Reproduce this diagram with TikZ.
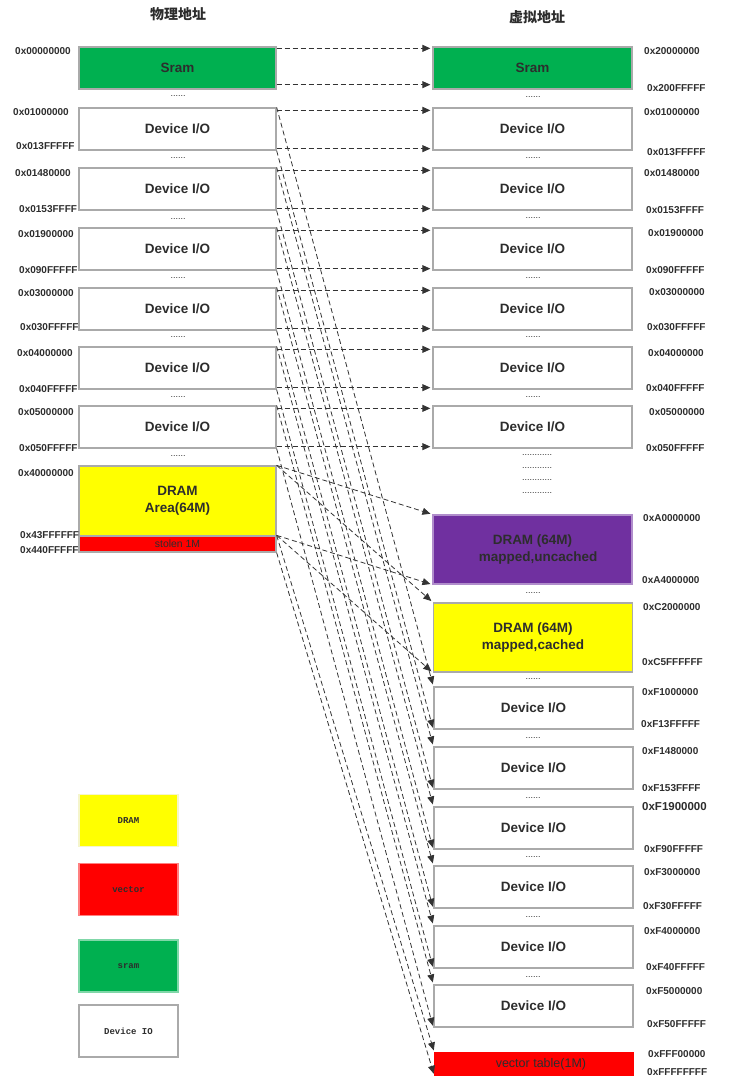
\documentclass[tikz,border=0pt]{standalone}
\usepackage{fontspec}
\setmainfont{Liberation Sans}
\newfontfamily\cjkfont{Noto Sans CJK SC}
\newfontfamily\legendfont{Liberation Mono}
\usetikzlibrary{arrows.meta,positioning}
\definecolor{sramgreen}{RGB}{0,176,80}
\definecolor{dramyellow}{RGB}{255,255,0}
\definecolor{vecred}{RGB}{255,0,0}
\definecolor{mappurple}{RGB}{112,48,160}
\definecolor{boxline}{RGB}{170,170,170}
\definecolor{txt}{RGB}{45,45,45}

\begin{document}
\begin{tikzpicture}[x=1pt, y=-1pt, >={Triangle[length=8pt,width=7pt]},
 blk/.style={draw=boxline, line width=1.3pt, minimum width=197pt, minimum height=42pt, inner sep=0pt, text=txt, font=\fontsize{13.5}{17}\selectfont\bfseries, align=center},
 addr/.style={anchor=west, inner sep=0pt, text=txt, font=\fontsize{10}{12}\selectfont\bfseries},
 gap/.style={inner sep=0pt, text=txt, font=\fontsize{9}{10}\selectfont},
 map/.style={->, dash pattern=on 5pt off 3pt, draw=black!80, line width=0.8pt, shorten >=2pt},
 key/.style={minimum width=99pt, minimum height=52pt, line width=1.3pt, inner sep=0pt, text=txt, font=\legendfont\fontsize{9}{10}\selectfont\bfseries}]
\useasboundingbox (0,0) rectangle (733,1079);

% titles
\node[text=txt, font=\cjkfont\fontsize{14}{16}\selectfont\bfseries] (tphys) at (178,14) {物理地址};
\node[text=txt, font=\cjkfont\fontsize{14}{16}\selectfont\bfseries] (tvirt) at (537,17) {虚拟地址};

% physical side
\node[blk, fill=sramgreen] (ps) at (177.5,68) {Sram};
\foreach \i/\y in {1/129,2/189,3/249,4/309,5/368,6/427}
  \node[blk] (pd\i) at (177.5,\y) {Device I/O};
\node[blk, fill=dramyellow, minimum height=70pt] (pdram) at (177.5,501) {DRAM\\Area(64M)};
\node[blk, fill=vecred, minimum height=16pt, font=\fontsize{10.4}{12}\selectfont] (pstolen) at (177.5,544) {stolen 1M};

% virtual side, top
\node[blk, fill=sramgreen, minimum width=199pt] (vs) at (532.5,68) {Sram};
\foreach \i/\y in {1/129,2/189,3/249,4/309,5/368,6/427}
  \node[blk, minimum width=199pt] (vd\i) at (532.5,\y) {Device I/O};

% virtual side, kernel area
\node[blk, fill=mappurple, draw=mappurple!55!white, minimum width=199pt, minimum height=69pt] (vunc) at (532.5,549.5) {DRAM (64M)\\\ \ \ mapped,uncached};
\node[blk, fill=dramyellow, minimum width=199pt, minimum height=69pt] (vcac) at (533,637.5) {DRAM (64M)\\mapped,cached};
\foreach \i/\y in {1/708,2/768,3/828,4/887,5/947,6/1006}
  \node[blk, minimum width=199pt] (kd\i) at (533.5,\y) {Device I/O};
\node[blk, fill=vecred, draw=vecred, minimum width=198pt, minimum height=22pt, font=\fontsize{12.5}{14}\selectfont] (vvec) at (534,1064) {\ \ \ \ vector table(1M)};

% gaps
\foreach \y [count=\n] in {96,158,219,278,337,397,456}
  \node[gap] (pg\n) at (178,\y) {......};
\foreach \y [count=\n] in {97,158,218,278,337,397}
  \node[gap] (vg\n) at (533,\y) {......};
\foreach \y [count=\n] in {455,468,480,493}
  \node[gap] (vl\n) at (537,\y) {............};
\foreach \y [count=\n] in {593,679,738,798,857,917,977}
  \node[gap] (kg\n) at (533,\y) {......};

% addresses
\foreach \x/\y/\t [count=\n] in {15/51/0x00000000, 13/112/0x01000000, 16/146/0x013FFFFF,
  15/173/0x01480000, 19/209/0x0153FFFF, 18/234/0x01900000, 19/270/0x090FFFFF,
  18/293/0x03000000, 20/327/0x030FFFFF, 17/353/0x04000000, 19/389/0x040FFFFF,
  18/412/0x05000000, 19/448/0x050FFFFF, 18/473/0x40000000, 20/535/0x43FFFFFF,
  20/550/0x440FFFFF}
  \node[addr] (pa\n) at (\x,\y) {\t};
\foreach \x/\y/\t [count=\n] in {644/51/0x20000000, 647/88/0x200FFFFF, 644/112/0x01000000,
  647/152/0x013FFFFF, 644/173/0x01480000, 646/210/0x0153FFFF, 648/233/0x01900000,
  646/270/0x090FFFFF, 649/292/0x03000000, 647/327/0x030FFFFF, 648/353/0x04000000,
  646/388/0x040FFFFF, 649/412/0x05000000, 646/448/0x050FFFFF}
  \node[addr] (va\n) at (\x,\y) {\t};
\foreach \x/\y/\t [count=\n] in {643/518/0xA0000000, 642/580/0xA4000000, 643/607/0xC2000000,
  642/662/0xC5FFFFFF, 642/692/0xF1000000, 641/724/0xF13FFFFF, 642/751/0xF1480000,
  642/788/0xF153FFFF, 644/849/0xF90FFFFF, 644/872/0xF3000000, 643/906/0xF30FFFFF,
  644/931/0xF4000000, 646/967/0xF40FFFFF, 646/991/0xF5000000, 647/1024/0xF50FFFFF,
  648/1054/0xFFF00000, 647/1072/0xFFFFFFFF}
  \node[addr] (ka\n) at (\x,\y) {\t};
\node[addr, font=\fontsize{11.5}{13}\selectfont\bfseries] (kabold) at (642,807) {0xF1900000};

% mappings
\draw[map] ([yshift=-2pt]ps.north east) -- ([yshift=-2pt]vs.north west);
\draw[map] ([yshift=5pt]ps.south east) -- ([yshift=5pt]vs.south west);
\foreach \i in {1,...,6} {
  \draw[map] ([yshift=-3pt]pd\i.north east) -- ([yshift=-3pt]vd\i.north west);
  \draw[map] ([yshift=2pt]pd\i.south east) -- ([yshift=2pt]vd\i.south west);
  \draw[map] (pd\i.north east) -- (kd\i.north west);
  \draw[map] (pd\i.south east) -- (kd\i.south west);
}
\draw[map] (pdram.north east) -- (vunc.north west);
\draw[map] (pdram.north east) -- (vcac.north west);
\draw[map] (pstolen.north east) -- (vunc.south west);
\draw[map] (pstolen.north east) -- (vcac.south west);
\draw[map] (pstolen.north east) -- (vvec.north west);
\draw[map] (pstolen.south east) -- (vvec.south west);

% legend
\node[key, fill=dramyellow, draw=dramyellow!80!black!20!white] (kdram) at (128.5,820.5) {DRAM};
\node[key, fill=vecred, draw=vecred!50!white] (kvec) at (128.5,889.5) {vector};
\node[key, fill=sramgreen, draw=sramgreen!50!white] (ksram) at (128.5,966) {sram};
\node[key, draw=boxline] (kdev) at (128.5,1031) {Device IO};
\end{tikzpicture}
\end{document}
